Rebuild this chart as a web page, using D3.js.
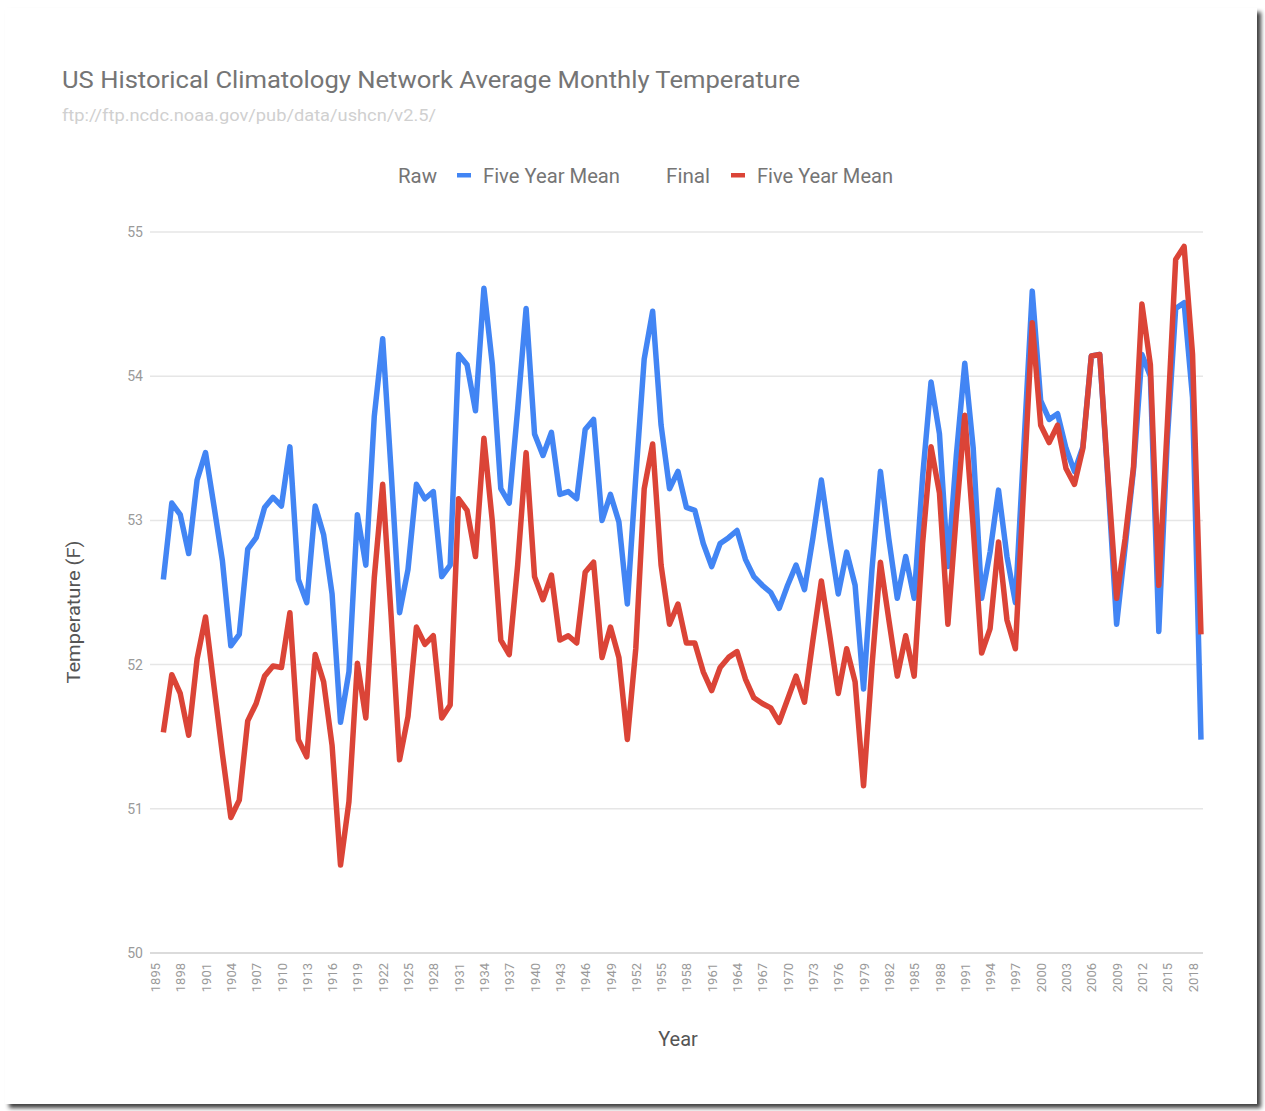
<!DOCTYPE html>
<html>
<head>
<meta charset="utf-8">
<script src="https://cdn.jsdelivr.net/npm/d3@7"></script>
<style>
  html, body { margin: 0; padding: 0; background: #ffffff; }
  svg { display: block; }
  text { font-family: Roboto, "Noto Sans", Arial, sans-serif; }
</style>
</head>
<body>
<svg id="chart" width="1265" height="1111"></svg>
<script>
// ---------------- DATA ----------------
const years = d3.range(1896, 2020); // categories (one per year)

const rawFiveYearMean = [
  52.59, 53.12, 53.04, 52.77, 53.28, 53.47, 53.10, 52.72, 52.13, 52.21,
  52.80, 52.88, 53.09, 53.16, 53.10, 53.51, 52.59, 52.43, 53.10, 52.90,
  52.49, 51.60, 51.95, 53.04, 52.69,
  53.72, 54.26, 53.34, 52.36, 52.66, 53.25, 53.15, 53.20, 52.61, 52.69,
  54.15, 54.08, 53.76, 54.61, 54.08, 53.22, 53.12, 53.77, 54.47, 53.60,
  53.45, 53.61, 53.18, 53.20, 53.15,
  53.63, 53.70, 53.00, 53.18, 52.99, 52.42, 53.30, 54.12, 54.45, 53.66,
  53.22, 53.34, 53.09, 53.07, 52.84, 52.68, 52.84, 52.88, 52.93, 52.73,
  52.61, 52.55, 52.50, 52.39, 52.55,
  52.69, 52.52, 52.88, 53.28, 52.87, 52.49, 52.78, 52.55, 51.83, 52.66,
  53.34, 52.87, 52.46, 52.75, 52.46, 53.30, 53.96, 53.60, 52.68, 53.45,
  54.09, 53.50, 52.46, 52.78, 53.21,
  52.75, 52.43, 53.51, 54.59, 53.83, 53.70, 53.74, 53.50, 53.34, 53.51,
  54.14, 54.15, 53.25, 52.28, 52.81, 53.35, 54.15, 54.00, 52.23, 53.55,
  54.47, 54.51, 53.85, 51.48
];

const finalFiveYearMean = [
  51.53, 51.93, 51.80, 51.51, 52.04, 52.33, 51.85, 51.38, 50.94, 51.06,
  51.61, 51.73, 51.92, 51.99, 51.98, 52.36, 51.48, 51.36, 52.07, 51.88,
  51.44, 50.61, 51.05, 52.01, 51.63,
  52.60, 53.25, 52.34, 51.34, 51.64, 52.26, 52.14, 52.20, 51.63, 51.72,
  53.15, 53.07, 52.75, 53.57, 52.99, 52.17, 52.07, 52.69, 53.47, 52.61,
  52.45, 52.62, 52.17, 52.20, 52.15,
  52.64, 52.71, 52.05, 52.26, 52.05, 51.48, 52.11, 53.22, 53.53, 52.69,
  52.28, 52.42, 52.15, 52.15, 51.95, 51.82, 51.98, 52.05, 52.09, 51.90,
  51.77, 51.73, 51.70, 51.60, 51.76,
  51.92, 51.74, 52.17, 52.58, 52.20, 51.80, 52.11, 51.88, 51.16, 51.99,
  52.71, 52.31, 51.92, 52.20, 51.92, 52.84, 53.51, 53.19, 52.28, 53.04,
  53.73, 52.95, 52.08, 52.25, 52.85,
  52.31, 52.11, 53.25, 54.37, 53.66, 53.54, 53.66, 53.36, 53.25, 53.50,
  54.14, 54.15, 53.28, 52.46, 52.87, 53.37, 54.50, 54.08, 52.55, 53.65,
  54.81, 54.90, 54.15, 52.21
];

const yTickValues = [50, 51, 52, 53, 54, 55];
const xTickYears = [1895, 1898, 1901, 1904, 1907, 1910, 1913, 1916, 1919, 1922,
  1925, 1928, 1931, 1934, 1937, 1940, 1943, 1946, 1949, 1952, 1955, 1958,
  1961, 1964, 1967, 1970, 1973, 1976, 1979, 1982, 1985, 1988, 1991, 1994,
  1997, 2000, 2003, 2006, 2009, 2012, 2015, 2018];

const titleText = "US Historical Climatology Network Average Monthly Temperature";
const subtitleText = "ftp://ftp.ncdc.noaa.gov/pub/data/ushcn/v2.5/";
const legendItems = [
  { prefix: "Raw", label: "Five Year Mean", color: "#4285F4" },
  { prefix: "Final", label: "Five Year Mean", color: "#DB4437" }
];

// ---------------- LAYOUT ----------------
const svg = d3.select("#chart");
const plot = { left: 150, right: 1203, top: 232, bottom: 953 };

const defs = svg.append("defs");
const f = defs.append("filter").attr("id", "shadow")
  .attr("x", "-5%").attr("y", "-5%").attr("width", "110%").attr("height", "110%");
f.append("feDropShadow").attr("dx", 4).attr("dy", 4).attr("stdDeviation", 2)
  .attr("flood-color", "#000").attr("flood-opacity", 0.75);

// card
svg.append("rect").attr("x", 5).attr("y", 8).attr("width", 1252).attr("height", 1096)
  .attr("fill", "#fff").attr("filter", "url(#shadow)");

const x = d3.scaleLinear().domain([1894.5, 2019.5]).range([150.7, 1205.2]);
const y = d3.scaleLinear().domain([50, 55]).range([plot.bottom, plot.top]);

// gridlines
const grid = svg.append("g");
grid.selectAll("line").data(yTickValues).join("line")
  .attr("x1", plot.left).attr("x2", plot.right)
  .attr("y1", d => y(d)).attr("y2", d => y(d))
  .attr("stroke", d => d === 50 ? "#cfcfcf" : "#e6e6e6")
  .attr("stroke-width", 1.5);

// y axis labels
const yAxis = d3.axisLeft(y).tickValues(yTickValues).tickSize(0).tickPadding(0)
  .tickFormat(d3.format("d"));
const gy = svg.append("g").attr("transform", `translate(${plot.left - 7},0)`).call(yAxis);
gy.select(".domain").remove();
gy.selectAll("text").attr("fill", "#9a9a9a").attr("font-size", 14)
  .attr("font-family", "Roboto, sans-serif");

// x axis labels (rotated)
const xAxis = d3.axisBottom(x).tickValues(xTickYears).tickSize(0).tickPadding(0)
  .tickFormat(d3.format("d"));
const gx = svg.append("g").attr("transform", `translate(0,${plot.bottom + 10})`).call(xAxis);
gx.select(".domain").remove();
gx.selectAll("text")
  .attr("fill", "#9a9a9a").attr("font-size", 13)
  .attr("font-family", "Roboto, sans-serif")
  .attr("text-anchor", "end")
  .attr("transform", "rotate(-90)")
  .attr("x", 0).attr("y", 0).attr("dy", "0.35em");

// lines
const line = d3.line().x((d, i) => x(years[i])).y(d => y(d));
[[rawFiveYearMean, "#4285F4"], [finalFiveYearMean, "#DB4437"]].forEach(([data, color]) => {
  svg.append("path").datum(data)
    .attr("d", line)
    .attr("fill", "none")
    .attr("stroke", color)
    .attr("stroke-width", 5.5)
    .attr("stroke-linejoin", "round")
    .attr("stroke-linecap", "butt");
});

// title & subtitle
svg.append("text").attr("x", 62).attr("y", 88).text(titleText)
  .attr("font-size", 24.5).attr("fill", "#757575")
  .attr("textLength", 738).attr("lengthAdjust", "spacingAndGlyphs");
svg.append("text").attr("x", 62).attr("y", 121).text(subtitleText)
  .attr("font-size", 16).attr("fill", "#d0d0d0")
  .attr("textLength", 374).attr("lengthAdjust", "spacingAndGlyphs");

// legend (positions/widths)
const legendLayout = [
  { x: 398, w1: 39, mx: 457, lx: 483, w2: 137 },
  { x: 666, w1: 44, mx: 731, lx: 757, w2: 136 }
];
legendItems.forEach((it, k) => {
  const L = legendLayout[k];
  svg.append("text").attr("x", L.x).attr("y", 183).text(it.prefix)
    .attr("font-size", 20).attr("fill", "#757575")
    .attr("textLength", L.w1).attr("lengthAdjust", "spacingAndGlyphs");
  svg.append("rect").attr("x", L.mx).attr("y", 173).attr("width", 14).attr("height", 4.5)
    .attr("fill", it.color);
  svg.append("text").attr("x", L.lx).attr("y", 183).text(it.label)
    .attr("font-size", 20).attr("fill", "#757575")
    .attr("textLength", L.w2).attr("lengthAdjust", "spacingAndGlyphs");
});

// axis titles
svg.append("text").attr("transform", "translate(80,612) rotate(-90)")
  .attr("text-anchor", "middle").text("Temperature (F)")
  .attr("font-size", 18.5).attr("fill", "#555555")
  .attr("textLength", 143).attr("lengthAdjust", "spacingAndGlyphs");
svg.append("text").attr("x", 678).attr("y", 1046).attr("text-anchor", "middle")
  .text("Year").attr("font-size", 20).attr("fill", "#555555");
</script>
</body>
</html>
